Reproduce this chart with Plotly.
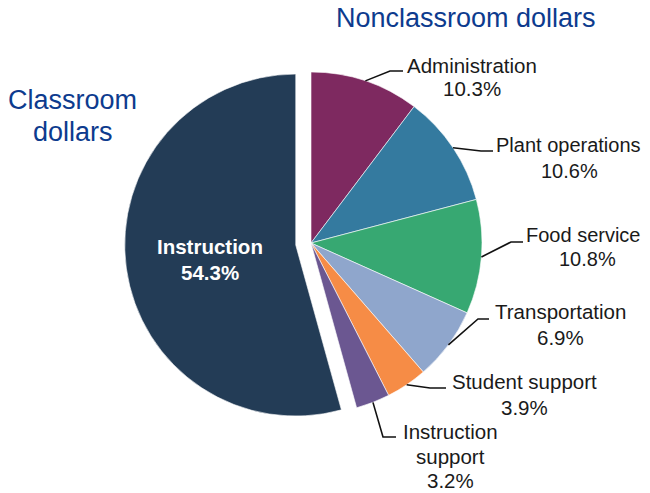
import math
import plotly.graph_objects as go

# ---- data ----
categories = ["Administration", "Plant operations", "Food service", "Transportation",
              "Student support", "Instruction support", "Instruction"]
shares = [10.3, 10.6, 10.8, 6.9, 3.9, 3.2, 54.3]
label_lines = [["Administration", "10.3%"],
               ["Plant operations", "10.6%"],
               ["Food service", "10.8%"],
               ["Transportation", "6.9%"],
               ["Student support", "3.9%"],
               ["Instruction", "support", "3.2%"],
               ["Instruction", "54.3%"]]
colors = ["#7e2960", "#347a9f", "#37a872", "#8fa6cc", "#f68c46", "#6b5791", "#233c56"]
pulls = [0, 0, 0, 0, 0, 0, 0.09]

# ---- layout geometry (window pixels); page body has an 8px margin ----
OFF = 8
W, H = 650 - OFF, 493 - OFF
CX, CY, R = 311, 243, 171
maxpull = max(pulls)
half = R * (1 + maxpull)

def px(x):
    return (x - OFF) / W

def py(y):
    return 1 - (y - OFF) / H

dom_x = [px(CX - half), px(CX + half)]
dom_y = [py(CY + half), py(CY - half)]

# label placement: elbow point, tail end, per-line text centre x, line centre ys, font size
label_layout = [
    dict(elbow=(390, 71), end=(403, 71), tx=[472, 472], ys=[65, 89], fs=20.5),
    dict(elbow=(481, 151), end=(493, 151), tx=[568.5, 569], ys=[145, 171], fs=20),
    dict(elbow=(511, 242), end=(523, 242), tx=[583.5, 587], ys=[234.5, 259], fs=20),
    dict(elbow=(478, 319), end=(489, 319), tx=[560, 560], ys=[311, 337.5], fs=20.5),
    dict(elbow=(430, 388), end=(446, 388), tx=[524.5, 524.5], ys=[381, 407], fs=20.5),
    dict(elbow=(383, 437), end=(396, 437), tx=[450, 450, 450], ys=[431, 456, 480.5], fs=20.5),
]

fig = go.Figure(go.Pie(
    labels=categories, values=shares, sort=False, direction="clockwise", rotation=0,
    marker=dict(colors=colors, line=dict(color="white", width=0.6)),
    pull=pulls, textinfo="none", hoverinfo="label+percent", showlegend=False,
    domain=dict(x=dom_x, y=dom_y),
))

shapes = []
annotations = []
total = sum(shares)
cum = 0.0
for i, (cat, v) in enumerate(zip(categories, shares)):
    mid = (cum + v / 2) / total * 2 * math.pi
    cum += v
    if i >= len(label_layout):
        continue
    lay = label_layout[i]
    sx = CX + R * math.sin(mid)
    sy = CY - R * math.cos(mid)
    ex, ey = lay["elbow"]
    tx_, ty_ = lay["end"]
    shapes.append(dict(type="path", xref="paper", yref="paper",
                       path=f"M {px(sx)},{py(sy)} L {px(ex)},{py(ey)} L {px(tx_)},{py(ty_)}",
                       line=dict(color="#111111", width=1.6)))
    for txt, xx, yy in zip(label_lines[i], lay["tx"], lay["ys"]):
        annotations.append(dict(x=px(xx), y=py(yy), xref="paper", yref="paper",
                                text=txt, showarrow=False, xanchor="center", yanchor="middle",
                                font=dict(family="Liberation Sans", size=lay["fs"], color="#1a1a1a")))

# Instruction inside label
for txt, yy in zip(label_lines[6], [246.7, 272]):
    annotations.append(dict(x=px(210), y=py(yy), xref="paper", yref="paper", text=f"<b>{txt}</b>",
                            showarrow=False, xanchor="center", yanchor="middle",
                            font=dict(family="Liberation Sans", size=20.5, color="white")))

# group headings
title_font = dict(family="Liberation Sans", size=27, color="#0d3b8e")
for txt, x, y in [("Nonclassroom dollars", 466, 18), ("Classroom", 72, 99.5), ("dollars", 73, 132)]:
    annotations.append(dict(x=px(x), y=py(y), xref="paper", yref="paper", text=txt,
                            showarrow=False, xanchor="center", yanchor="middle", font=title_font))

fig.update_layout(width=W, height=H, margin=dict(l=0, r=0, t=0, b=0),
                  paper_bgcolor="white", plot_bgcolor="white",
                  shapes=shapes, annotations=annotations)
fig.write_html("out.html")
